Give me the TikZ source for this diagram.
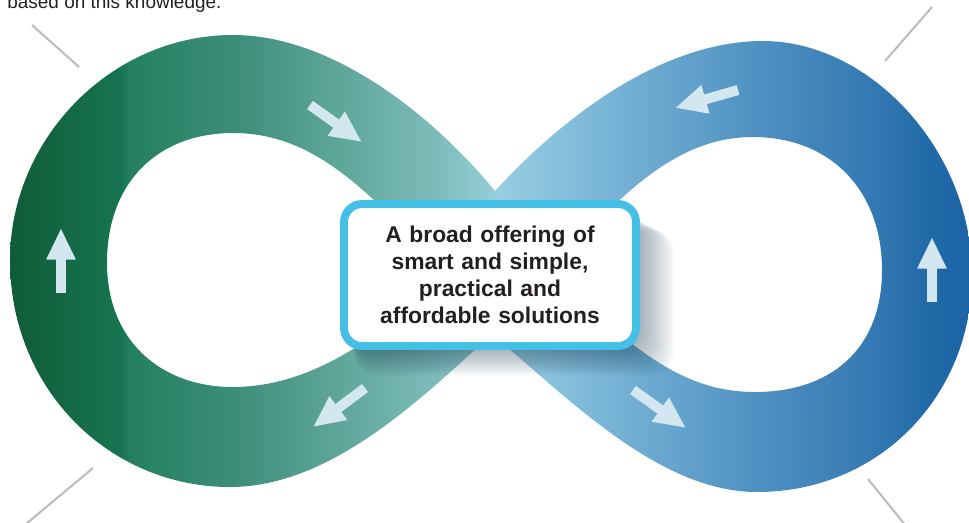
\documentclass[tikz,border=0pt]{standalone}
\usepackage{fontspec}
\setmainfont{Liberation Sans}
\usepackage{tikz}
\usetikzlibrary{arrows.meta,backgrounds,calc}

\definecolor{loopcyan}{HTML}{44C0E6}
\definecolor{arrowblue}{HTML}{D3E7F1}
\definecolor{leadgray}{HTML}{BDBDBD}
\definecolor{inktext}{HTML}{231F20}
\definecolor{shadowink}{HTML}{1E3A50}
% green half of the loop
\definecolor{gA}{HTML}{105C37}
\definecolor{gB}{HTML}{177452}
\definecolor{gC}{HTML}{248060}
\definecolor{gD}{HTML}{3C8D78}
\definecolor{gE}{HTML}{5CA497}
\definecolor{gF}{HTML}{7BBAB8}
\definecolor{gG}{HTML}{93CED5}
% blue half of the loop
\definecolor{bA}{HTML}{98CDE1}
\definecolor{bB}{HTML}{86C0DC}
\definecolor{bC}{HTML}{6CAAD0}
\definecolor{bD}{HTML}{4F90C2}
\definecolor{bE}{HTML}{3A7EB6}
\definecolor{bF}{HTML}{216AA8}
\definecolor{bG}{HTML}{1C64A4}

\pgfdeclarehorizontalshading{loopshade}{100bp}{%
  color(0bp)=(gA); color(25.5bp)=(gA); color(31.2bp)=(gB); color(31.7bp)=(gC);
  color(37bp)=(gD); color(42bp)=(gE); color(47.2bp)=(gF); color(50.4bp)=(gG);
  color(50.7bp)=(bA); color(53.9bp)=(bB); color(58.5bp)=(bC); color(64.2bp)=(bD);
  color(68.9bp)=(bE); color(73bp)=(bF); color(75bp)=(bG); color(100bp)=(bG)}

\begin{document}
\begin{tikzpicture}[
    x=0.02cm, y=-0.02cm,
    offerbox/.style={rectangle, rounded corners=0.36cm, draw=loopcyan, line width=4.5pt, fill=white,
      minimum width=5.84cm, minimum height=2.84cm, text width=5.4cm, align=center, text=inktext,
      font=\bfseries\fontsize{13}{15.3}\selectfont},
    flowarrow/.style={draw=arrowblue, line width=5.7pt, -{Triangle[width=15.5pt, length=18pt]}},
    leader/.style={draw=leadgray, line width=1.2pt},
    shadowbox/.style={fill=shadowink, opacity=0.026, rounded corners=0.45cm}
]
\useasboundingbox (0,0) rectangle (969,522);

% Centre box
\node[offerbox] (offer) at (490,275) {A broad offering of\\ smart and simple,\\ practical and\\ affordable solutions};

\begin{scope}[on background layer]
% Infinity band, holes cut out
\begin{scope}[even odd rule]
\clip
  (495,191) .. controls (430,112) and (330,35) .. (233,35)
  .. controls (110,35) and (10,140) .. (10,260)
  .. controls (10,390) and (110,487) .. (230,487)
  .. controls (330,487) and (420,400) .. (492,334)
  .. controls (570,400) and (660,492) .. (757,492)
  .. controls (880,492) and (972,395) .. (972,275)
  .. controls (972,150) and (870,41) .. (763,41)
  .. controls (660,41) and (560,120) .. (495,191) -- cycle
  (107,263) .. controls (107,180) and (160,133) .. (233,133)
  .. controls (310,133) and (360,185) .. (420,245)
  .. controls (440,265) and (440,280) .. (420,298)
  .. controls (375,338) and (310,387) .. (233,387)
  .. controls (160,387) and (107,340) .. (107,263) -- cycle
  (882,270) .. controls (882,190) and (830,137) .. (753,137)
  .. controls (690,137) and (640,175) .. (580,240)
  .. controls (560,262) and (560,280) .. (580,300)
  .. controls (645,358) and (690,392) .. (755,392)
  .. controls (830,392) and (882,350) .. (882,270) -- cycle;
\shade[shading=loopshade] (0,0) rectangle (969,522);
\end{scope}

% Direction arrows
\coordinate (leftA) at (61,293);   \coordinate (leftB) at (61,228);
\coordinate (topLA) at (310,105);  \coordinate (topLB) at (362,142);
\coordinate (botLA) at (365,388);  \coordinate (botLB) at (313,427);
\coordinate (topRA) at (738,90);   \coordinate (topRB) at (675,108);
\coordinate (botRA) at (633,390);  \coordinate (botRB) at (686,428);
\coordinate (rightA) at (932,302); \coordinate (rightB) at (932,237);
\draw[flowarrow] (leftA) -- (leftB);
\draw[flowarrow] (topLA) -- (topLB);
\draw[flowarrow] (botLA) -- (botLB);
\draw[flowarrow] (topRA) -- (topRB);
\draw[flowarrow] (botRA) -- (botRB);
\draw[flowarrow] (rightA) -- (rightB);

% Soft shadow under the box, spreading right and down
\foreach \s [evaluate=\s as \e using 2*\s] in {0,...,16}
  \fill[shadowbox] ($(offer.north west)+(14,14+0.5*\e)$) rectangle ($(offer.south east)+(2+\e,0.8*\e)$);
\end{scope}

% Leader lines in the corners
\coordinate (tlA) at (32,25);   \coordinate (tlB) at (79,67);
\coordinate (blA) at (93,468);  \coordinate (blB) at (26,524);
\coordinate (trA) at (932,7);   \coordinate (trB) at (885,61);
\coordinate (brA) at (868,479); \coordinate (brB) at (906,526);
\draw[leader] (tlA) -- (tlB);
\draw[leader] (blA) -- (blB);
\draw[leader] (trA) -- (trB);
\draw[leader] (brA) -- (brB);

% Text running above
\node[anchor=base west, inner sep=0, text=inktext, font=\fontsize{10.8}{13}\selectfont] (note) at (7,8) {based on this knowledge.};
\end{tikzpicture}
\end{document}
